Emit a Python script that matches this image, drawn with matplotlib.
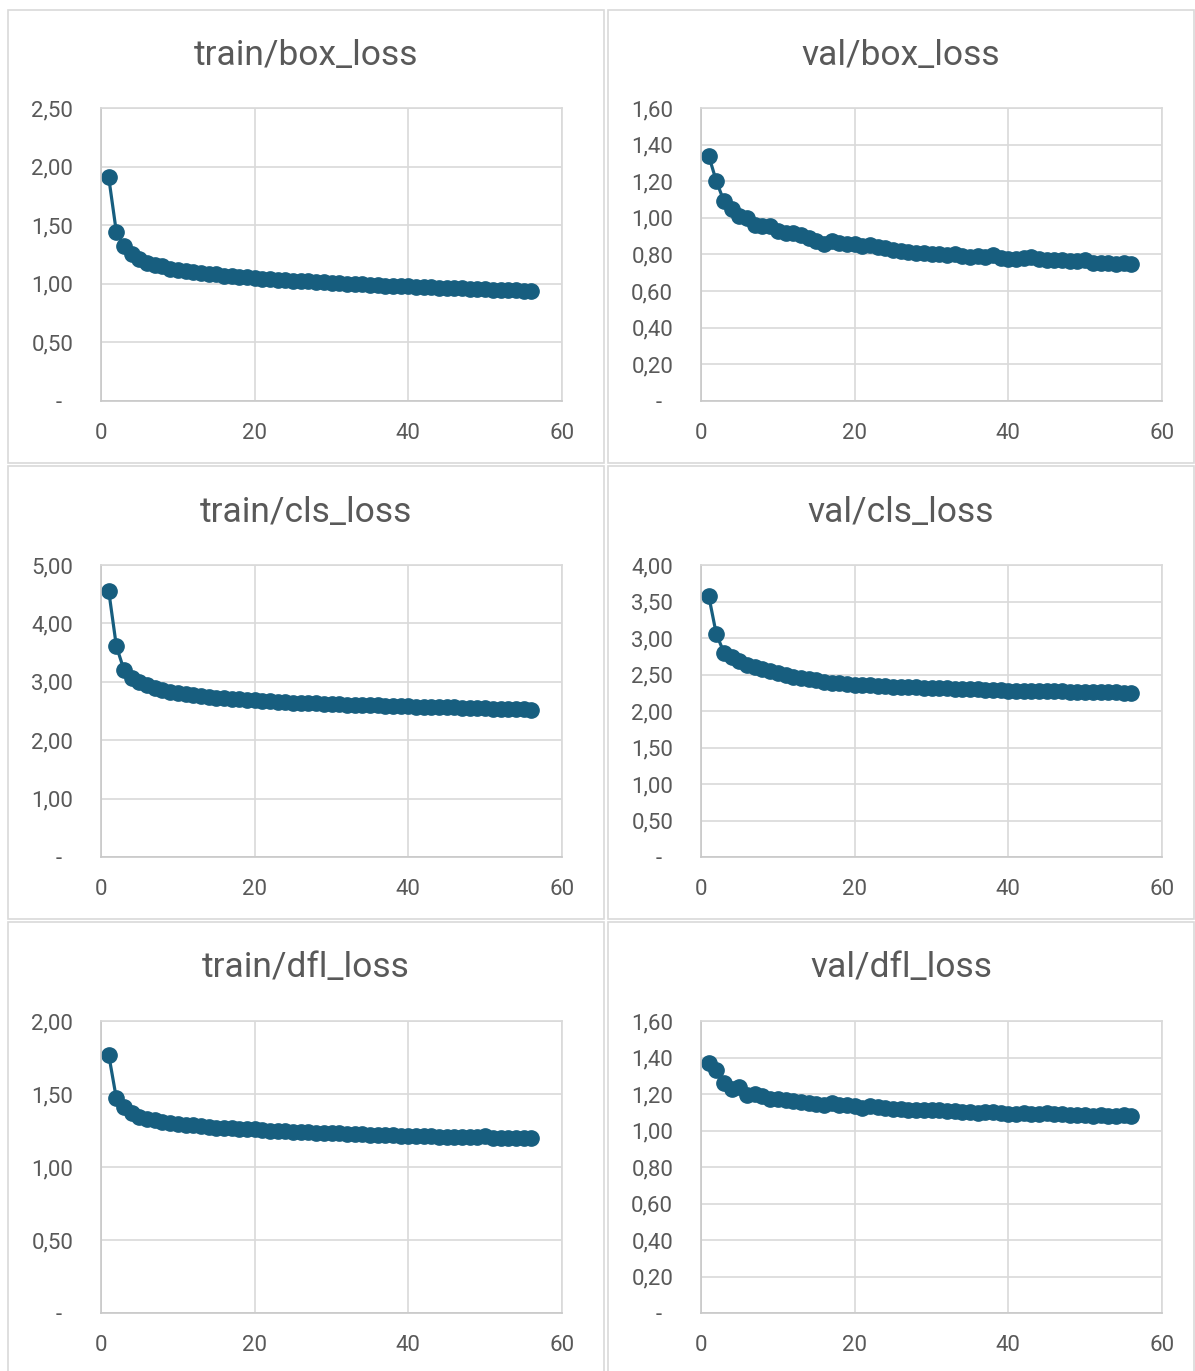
import matplotlib.pyplot as plt
from matplotlib.patches import Rectangle
from matplotlib.ticker import FuncFormatter, MultipleLocator

plt.rcParams['font.family'] = ['Roboto', 'DejaVu Sans']

epochs = list(range(1, 57))

train_box = [1.91, 1.44, 1.32, 1.25, 1.21, 1.18, 1.16, 1.15, 1.13, 1.12,
             1.11, 1.10, 1.09, 1.085, 1.08, 1.07, 1.065, 1.06, 1.055, 1.05,
             1.045, 1.04, 1.035, 1.03, 1.028, 1.025, 1.02, 1.015, 1.012, 1.01,
             1.005, 1.00, 0.998, 0.995, 0.99, 0.988, 0.985, 0.982, 0.98, 0.978,
             0.975, 0.972, 0.97, 0.967, 0.965, 0.962, 0.96, 0.958, 0.955, 0.953,
             0.95, 0.948, 0.946, 0.944, 0.942, 0.94]

val_box = [1.34, 1.20, 1.09, 1.05, 1.01, 1.00, 0.96, 0.955, 0.955, 0.93,
           0.92, 0.915, 0.905, 0.89, 0.875, 0.855, 0.875, 0.865, 0.86, 0.855,
           0.845, 0.85, 0.84, 0.835, 0.825, 0.82, 0.815, 0.81, 0.81, 0.805,
           0.80, 0.795, 0.80, 0.79, 0.785, 0.79, 0.785, 0.795, 0.78, 0.775,
           0.775, 0.78, 0.785, 0.775, 0.77, 0.77, 0.77, 0.765, 0.765, 0.77,
           0.755, 0.755, 0.755, 0.75, 0.755, 0.75]

train_cls = [4.56, 3.61, 3.20, 3.07, 3.00, 2.95, 2.90, 2.86, 2.83, 2.81,
             2.79, 2.77, 2.75, 2.74, 2.73, 2.72, 2.71, 2.70, 2.69, 2.68,
             2.67, 2.665, 2.66, 2.65, 2.645, 2.64, 2.635, 2.63, 2.625, 2.62,
             2.615, 2.61, 2.605, 2.60, 2.60, 2.595, 2.59, 2.585, 2.58, 2.58,
             2.575, 2.57, 2.57, 2.565, 2.56, 2.56, 2.555, 2.55, 2.55, 2.545,
             2.54, 2.54, 2.535, 2.53, 2.53, 2.525]

val_cls = [3.58, 3.05, 2.80, 2.74, 2.69, 2.63, 2.60, 2.57, 2.55, 2.52,
           2.49, 2.47, 2.45, 2.44, 2.42, 2.40, 2.39, 2.38, 2.37, 2.36,
           2.36, 2.35, 2.345, 2.34, 2.335, 2.33, 2.33, 2.325, 2.32, 2.315,
           2.31, 2.31, 2.305, 2.30, 2.30, 2.295, 2.29, 2.29, 2.285, 2.28,
           2.28, 2.28, 2.275, 2.275, 2.27, 2.27, 2.27, 2.265, 2.265, 2.26,
           2.26, 2.26, 2.255, 2.255, 2.25, 2.25]

train_dfl = [1.77, 1.47, 1.41, 1.37, 1.345, 1.33, 1.32, 1.31, 1.30, 1.295,
             1.29, 1.285, 1.28, 1.275, 1.27, 1.268, 1.265, 1.262, 1.26, 1.258,
             1.255, 1.25, 1.248, 1.245, 1.242, 1.24, 1.238, 1.236, 1.234, 1.232,
             1.23, 1.228, 1.226, 1.224, 1.222, 1.22, 1.218, 1.216, 1.215, 1.214,
             1.212, 1.21, 1.209, 1.208, 1.207, 1.206, 1.205, 1.204, 1.203, 1.21,
             1.202, 1.201, 1.20, 1.199, 1.198, 1.197]

val_dfl = [1.37, 1.33, 1.26, 1.225, 1.24, 1.195, 1.20, 1.19, 1.175, 1.17,
           1.165, 1.16, 1.155, 1.15, 1.145, 1.14, 1.15, 1.14, 1.14, 1.135,
           1.125, 1.135, 1.13, 1.125, 1.12, 1.12, 1.115, 1.115, 1.11, 1.11,
           1.11, 1.105, 1.105, 1.10, 1.10, 1.095, 1.10, 1.10, 1.095, 1.09,
           1.09, 1.095, 1.09, 1.09, 1.095, 1.09, 1.09, 1.085, 1.085, 1.085,
           1.08, 1.085, 1.08, 1.08, 1.085, 1.08]

titles = ["train/box_loss", "val/box_loss", "train/cls_loss",
          "val/cls_loss", "train/dfl_loss", "val/dfl_loss"]
series = [train_box, val_box, train_cls, val_cls, train_dfl, val_dfl]
ymax = [2.5, 1.6, 5.0, 4.0, 2.0, 1.6]
ystep = [0.5, 0.2, 1.0, 0.5, 0.5, 0.2]

W, H = 1195, 1371
fig = plt.figure(figsize=(W / 100, H / 100), dpi=100)

line_color = '#175e7f'
grid_color = '#d9d9d9'
text_color = '#595959'

# panel frames (pixels): x0, x1 per column, y0, y1 per row
col_frames = [(8, 604), (608, 1194)]
row_frames = [(10, 463), (466, 919), (922, 1375)]
col_plot = [(101, 562), (701, 1162)]
row_plot = [(108, 401), (565, 857), (1021, 1313)]


def fmt(v, pos):
    if abs(v) < 1e-9:
        return '-  '
    return f"{v:.2f}".replace('.', ',')


for i in range(6):
    r, c = divmod(i, 2)
    fx0, fx1 = col_frames[c]
    fy0, fy1 = row_frames[r]
    fig.patches.append(Rectangle((fx0 / W, 1 - fy1 / H), (fx1 - fx0) / W, (fy1 - fy0) / H,
                                 transform=fig.transFigure, fill=False,
                                 edgecolor=grid_color, lw=1.2))
    px0, px1 = col_plot[c]
    py0, py1 = row_plot[r]
    ax = fig.add_axes([px0 / W, 1 - py1 / H, (px1 - px0) / W, (py1 - py0) / H])
    ax.plot(epochs, series[i], color=line_color, lw=2.3, marker='o', markersize=11)
    ax.set_xlim(0, 60)
    ax.set_ylim(0, ymax[i])
    ax.xaxis.set_major_locator(MultipleLocator(20))
    ax.yaxis.set_major_locator(MultipleLocator(ystep[i]))
    ax.yaxis.set_major_formatter(FuncFormatter(fmt))
    ax.grid(True, color=grid_color, lw=1.2)
    ax.set_axisbelow(True)
    for s in ax.spines.values():
        s.set_color(grid_color)
        s.set_linewidth(1.2)
    ax.spines['left'].set_color('#c8c8c8')
    ax.spines['bottom'].set_color('#c8c8c8')
    ax.tick_params(axis='both', length=0, labelsize=16, labelcolor=text_color)
    ax.tick_params(axis='y', pad=20)
    ax.tick_params(axis='x', pad=16)
    fig.text(((fx0 + fx1) / 2) / W, 1 - (fy0 + 46) / H, titles[i],
             ha='center', va='center', fontsize=25.5, color=text_color)

fig.savefig('out.png', dpi=100, facecolor='white')
